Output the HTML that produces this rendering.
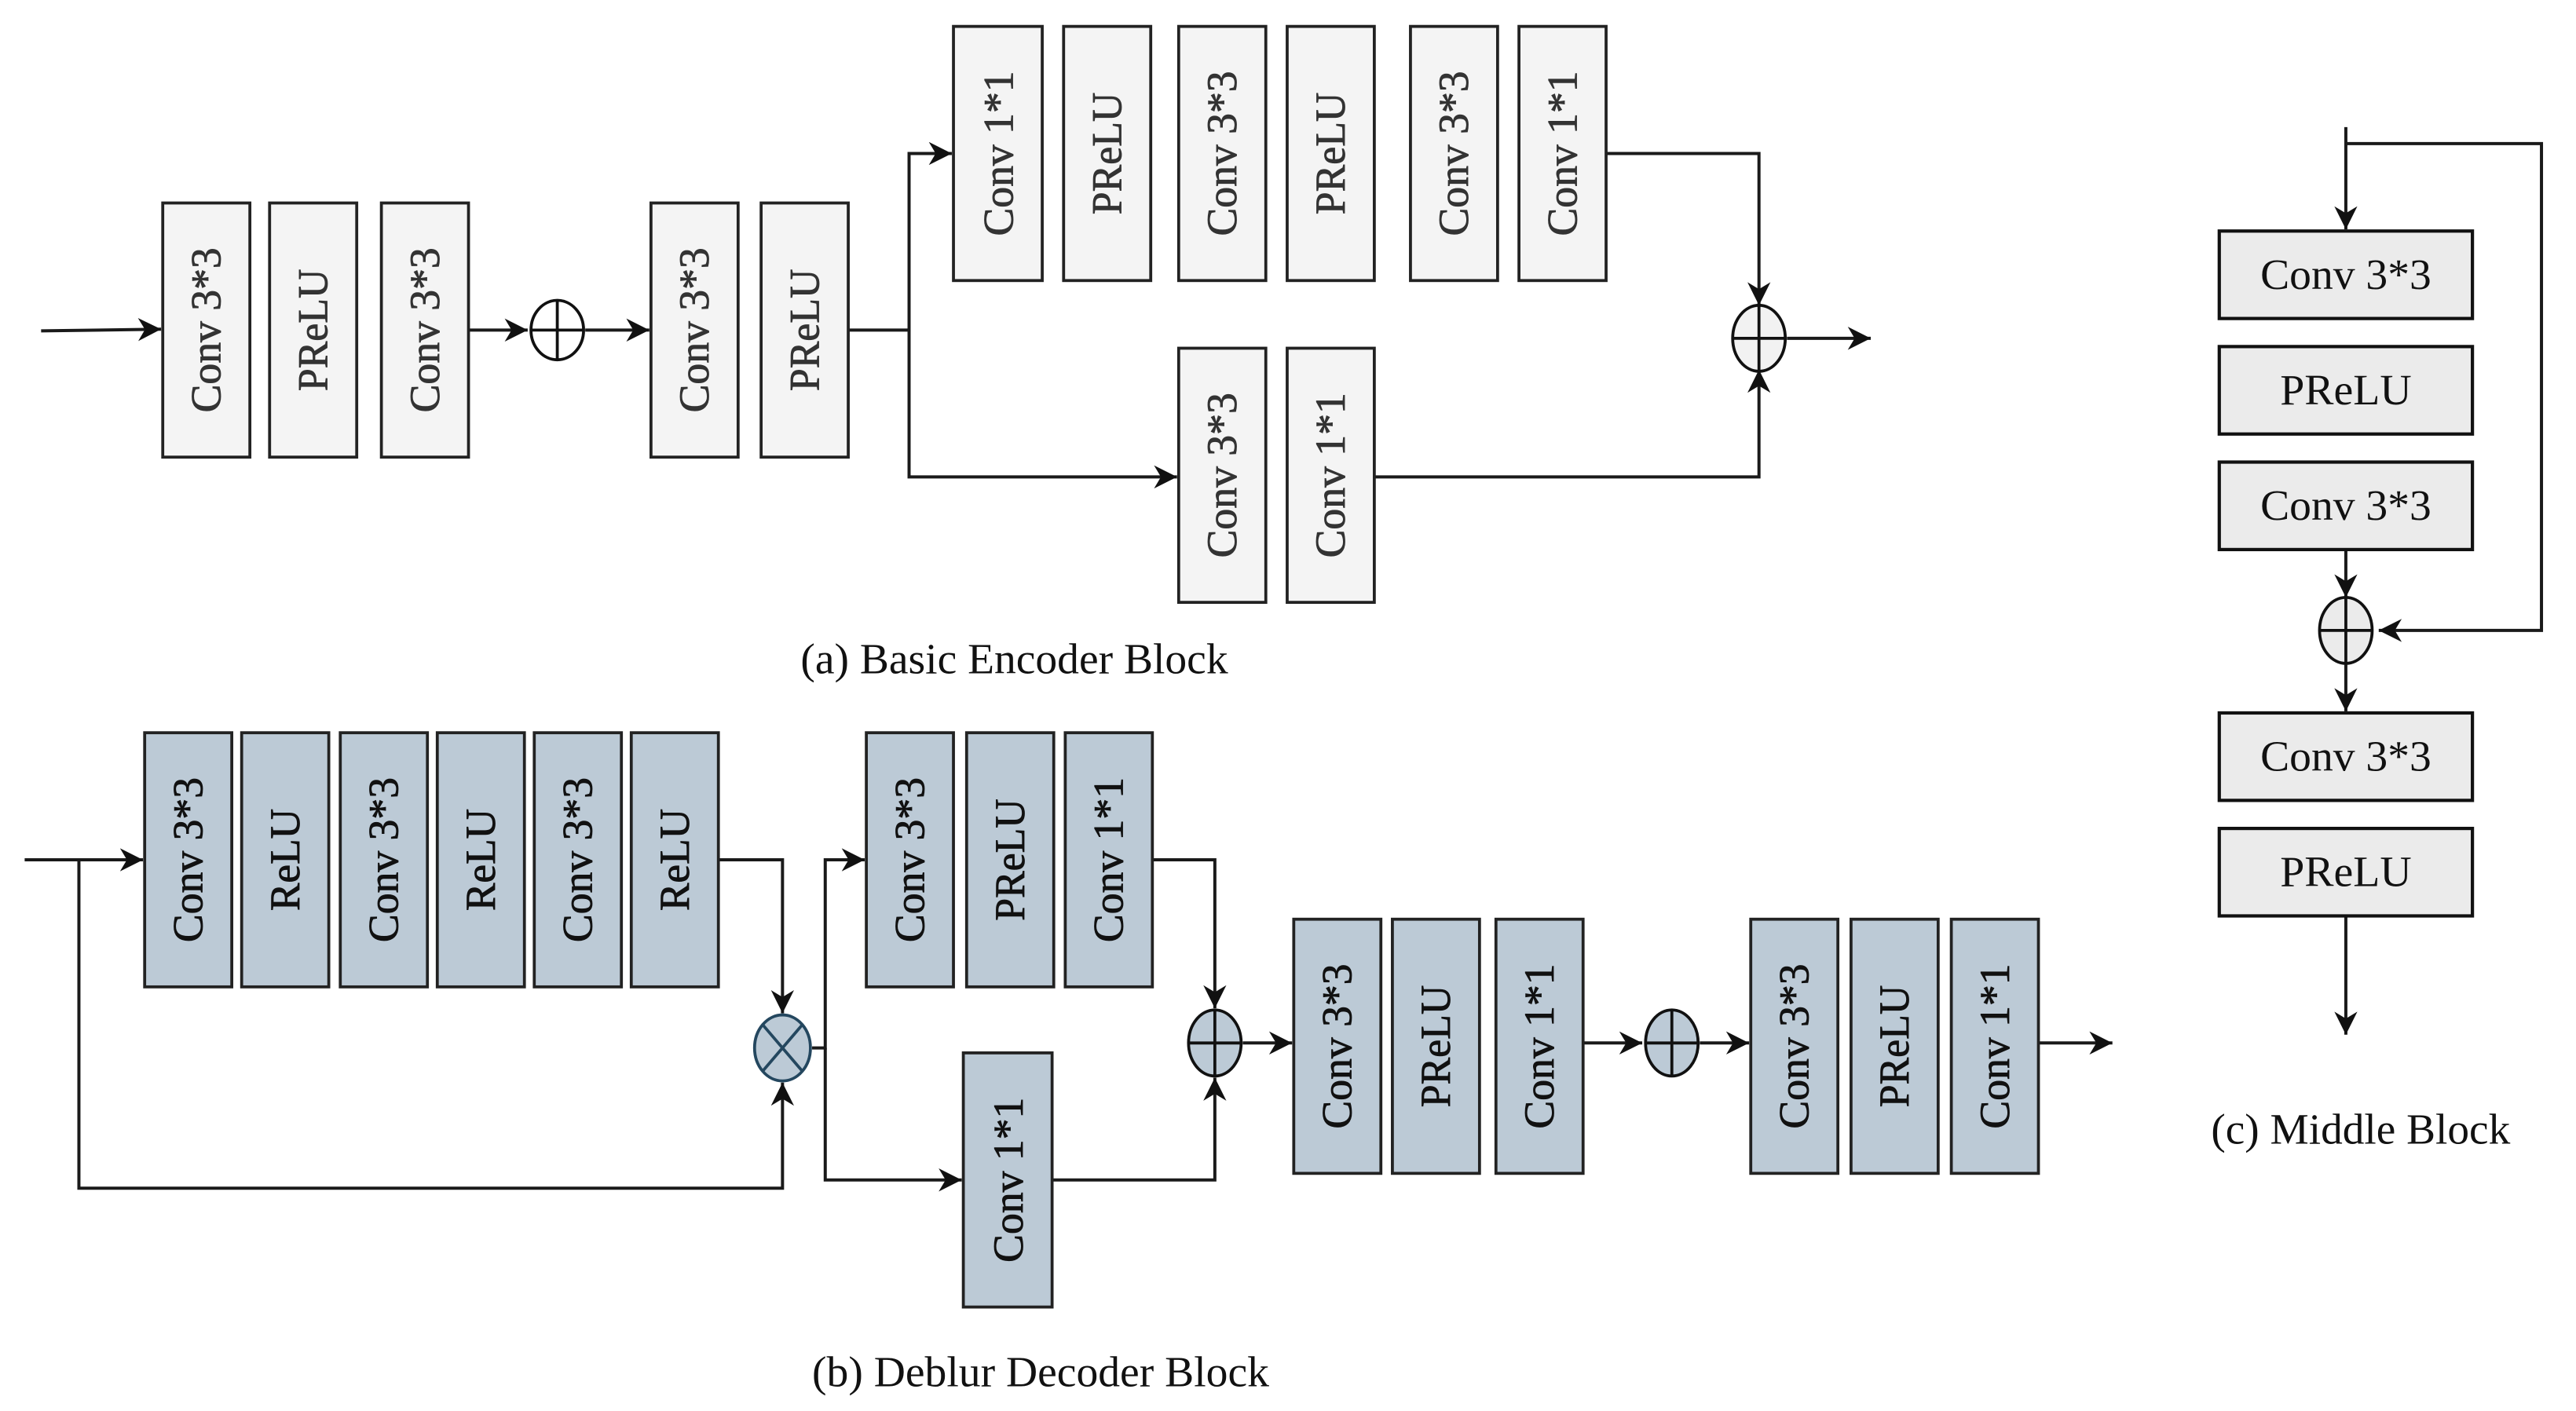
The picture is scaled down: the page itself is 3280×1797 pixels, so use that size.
<!DOCTYPE html>
<html><head><meta charset="utf-8"><style>html,body{margin:0;padding:0;background:#fff}svg{display:block}</style></head><body>
<svg width="3280" height="1797" viewBox="0 0 1567 855" preserveAspectRatio="none" xmlns="http://www.w3.org/2000/svg" font-family="Liberation Serif, serif">
<defs>
<marker id="a" viewBox="0 0 10 10" refX="10" refY="5" markerWidth="14" markerHeight="14" markerUnits="userSpaceOnUse" orient="auto"><path d="M0,0 L10,5 L0,10 L3,5 z" fill="#111"/></marker>
</defs>
<g stroke="#1a1a1a" stroke-width="1.9" fill="none">
<path d="M25,200.5 L98,199.5" marker-end="url(#a)"/>
<path d="M285,200 L321,200" marker-end="url(#a)"/>
<path d="M356,200 L395,200" marker-end="url(#a)"/>
<path d="M516,200 L553,200 L553,93 L579,93" marker-end="url(#a)"/>
<path d="M553,200 L553,289 L716,289" marker-end="url(#a)"/>
<path d="M977,93 L1070,93 L1070,185" marker-end="url(#a)"/>
<path d="M836,289 L1070,289 L1070,224" marker-end="url(#a)"/>
<path d="M1087,205 L1138,205" marker-end="url(#a)"/>
<path d="M1427,77 L1427,139" marker-end="url(#a)"/>
<path d="M1427,87 L1546,87 L1546,382 L1447,382" marker-end="url(#a)"/>
<path d="M1427,333 L1427,362" marker-end="url(#a)"/>
<path d="M1427,402 L1427,431" marker-end="url(#a)"/>
<path d="M1427,555 L1427,627" marker-end="url(#a)"/>
<path d="M15,521 L87,521" marker-end="url(#a)"/>
<path d="M48,521 L48,720 L476,720 L476,656" marker-end="url(#a)"/>
<path d="M437,521 L476,521 L476,614" marker-end="url(#a)"/>
<path d="M494,635 L502,635 L502,521 L526,521" marker-end="url(#a)"/>
<path d="M502,635 L502,715 L585,715" marker-end="url(#a)"/>
<path d="M701,521 L739,521 L739,611" marker-end="url(#a)"/>
<path d="M640,715 L739,715 L739,653" marker-end="url(#a)"/>
<path d="M756,632 L786,632" marker-end="url(#a)"/>
<path d="M963,632 L999,632" marker-end="url(#a)"/>
<path d="M1034,632 L1064,632" marker-end="url(#a)"/>
<path d="M1240,632 L1285,632" marker-end="url(#a)"/>
</g>
<g stroke="#111" stroke-width="1.8">
<ellipse cx="339" cy="200" rx="16" ry="18" fill="#fff"/><path d="M323,200 H355 M339,182 V218"/>
<ellipse cx="1070" cy="205" rx="16" ry="20" fill="#f2f2f2"/><path d="M1054,205 H1086 M1070,185 V225"/>
<ellipse cx="1427" cy="382" rx="16" ry="20" fill="#ebebeb"/><path d="M1411,382 H1443 M1427,362 V402"/>
<ellipse cx="739" cy="632" rx="16" ry="20" fill="#bccad6"/><path d="M723,632 H755 M739,612 V652"/>
<ellipse cx="1017" cy="632" rx="16" ry="20" fill="#bccad6"/><path d="M1001,632 H1033 M1017,612 V652"/>
</g>
<g stroke="#24475f" stroke-width="1.8">
<ellipse cx="476" cy="635" rx="17" ry="20" fill="#bccad6"/><path d="M464,621 L488,649 M488,621 L464,649"/>
</g>
<g stroke="#222" stroke-width="1.8" fill="#f4f4f4">
<rect x="99" y="123" width="53" height="154"/><rect x="164" y="123" width="53" height="154"/><rect x="232" y="123" width="53" height="154"/>
<rect x="396" y="123" width="53" height="154"/><rect x="463" y="123" width="53" height="154"/>
<rect x="580" y="16" width="54" height="154"/><rect x="647" y="16" width="53" height="154"/><rect x="717" y="16" width="53" height="154"/>
<rect x="783" y="16" width="53" height="154"/><rect x="858" y="16" width="53" height="154"/><rect x="924" y="16" width="53" height="154"/>
<rect x="717" y="211" width="53" height="154"/><rect x="783" y="211" width="53" height="154"/>
</g>
<g stroke="#111" stroke-width="2" fill="#ebebeb">
<rect x="1350" y="140" width="154" height="53"/><rect x="1350" y="210" width="154" height="53"/><rect x="1350" y="280" width="154" height="53"/>
<rect x="1350" y="432" width="154" height="53"/><rect x="1350" y="502" width="154" height="53"/>
</g>
<g stroke="#222" stroke-width="1.8" fill="#bccad6">
<rect x="88" y="444" width="53" height="154"/><rect x="147" y="444" width="53" height="154"/><rect x="207" y="444" width="53" height="154"/>
<rect x="266" y="444" width="53" height="154"/><rect x="325" y="444" width="53" height="154"/><rect x="384" y="444" width="53" height="154"/>
<rect x="527" y="444" width="53" height="154"/><rect x="588" y="444" width="53" height="154"/><rect x="648" y="444" width="53" height="154"/>
<rect x="586" y="638" width="54" height="154"/>
<rect x="787" y="557" width="53" height="154"/><rect x="847" y="557" width="53" height="154"/><rect x="910" y="557" width="53" height="154"/>
<rect x="1065" y="557" width="53" height="154"/><rect x="1126" y="557" width="53" height="154"/><rect x="1187" y="557" width="53" height="154"/>
</g>
<g font-size="26" text-anchor="middle" fill="#333" stroke="#333" stroke-width="0.4">
<text transform="translate(134,200) rotate(-90)" textLength="100" lengthAdjust="spacingAndGlyphs">Conv 3*3</text>
<text transform="translate(199,200) rotate(-90)" textLength="74" lengthAdjust="spacingAndGlyphs">PReLU</text>
<text transform="translate(267,200) rotate(-90)" textLength="100" lengthAdjust="spacingAndGlyphs">Conv 3*3</text>
<text transform="translate(431,200) rotate(-90)" textLength="100" lengthAdjust="spacingAndGlyphs">Conv 3*3</text>
<text transform="translate(498,200) rotate(-90)" textLength="74" lengthAdjust="spacingAndGlyphs">PReLU</text>
<text transform="translate(616,93) rotate(-90)" textLength="100" lengthAdjust="spacingAndGlyphs">Conv 1*1</text>
<text transform="translate(682,93) rotate(-90)" textLength="74" lengthAdjust="spacingAndGlyphs">PReLU</text>
<text transform="translate(752,93) rotate(-90)" textLength="100" lengthAdjust="spacingAndGlyphs">Conv 3*3</text>
<text transform="translate(818,93) rotate(-90)" textLength="74" lengthAdjust="spacingAndGlyphs">PReLU</text>
<text transform="translate(893,93) rotate(-90)" textLength="100" lengthAdjust="spacingAndGlyphs">Conv 3*3</text>
<text transform="translate(959,93) rotate(-90)" textLength="100" lengthAdjust="spacingAndGlyphs">Conv 1*1</text>
<text transform="translate(752,288) rotate(-90)" textLength="100" lengthAdjust="spacingAndGlyphs">Conv 3*3</text>
<text transform="translate(818,288) rotate(-90)" textLength="100" lengthAdjust="spacingAndGlyphs">Conv 1*1</text>
</g>
<g font-size="26" text-anchor="middle" fill="#111" stroke="#111" stroke-width="0.4">
<text transform="translate(123,521) rotate(-90)" textLength="100" lengthAdjust="spacingAndGlyphs">Conv 3*3</text>
<text transform="translate(182,521) rotate(-90)" textLength="62" lengthAdjust="spacingAndGlyphs">ReLU</text>
<text transform="translate(242,521) rotate(-90)" textLength="100" lengthAdjust="spacingAndGlyphs">Conv 3*3</text>
<text transform="translate(301,521) rotate(-90)" textLength="62" lengthAdjust="spacingAndGlyphs">ReLU</text>
<text transform="translate(360,521) rotate(-90)" textLength="100" lengthAdjust="spacingAndGlyphs">Conv 3*3</text>
<text transform="translate(419,521) rotate(-90)" textLength="62" lengthAdjust="spacingAndGlyphs">ReLU</text>
<text transform="translate(562,521) rotate(-90)" textLength="100" lengthAdjust="spacingAndGlyphs">Conv 3*3</text>
<text transform="translate(623,521) rotate(-90)" textLength="74" lengthAdjust="spacingAndGlyphs">PReLU</text>
<text transform="translate(683,521) rotate(-90)" textLength="100" lengthAdjust="spacingAndGlyphs">Conv 1*1</text>
<text transform="translate(622,715) rotate(-90)" textLength="100" lengthAdjust="spacingAndGlyphs">Conv 1*1</text>
<text transform="translate(822,634) rotate(-90)" textLength="100" lengthAdjust="spacingAndGlyphs">Conv 3*3</text>
<text transform="translate(882,634) rotate(-90)" textLength="74" lengthAdjust="spacingAndGlyphs">PReLU</text>
<text transform="translate(945,634) rotate(-90)" textLength="100" lengthAdjust="spacingAndGlyphs">Conv 1*1</text>
<text transform="translate(1100,634) rotate(-90)" textLength="100" lengthAdjust="spacingAndGlyphs">Conv 3*3</text>
<text transform="translate(1161,634) rotate(-90)" textLength="74" lengthAdjust="spacingAndGlyphs">PReLU</text>
<text transform="translate(1222,634) rotate(-90)" textLength="100" lengthAdjust="spacingAndGlyphs">Conv 1*1</text>
</g>
<g font-size="26" text-anchor="middle" fill="#111">
<text x="1427" y="175" textLength="104" lengthAdjust="spacingAndGlyphs">Conv 3*3</text>
<text x="1427" y="245" textLength="80" lengthAdjust="spacingAndGlyphs">PReLU</text>
<text x="1427" y="315" textLength="104" lengthAdjust="spacingAndGlyphs">Conv 3*3</text>
<text x="1427" y="467" textLength="104" lengthAdjust="spacingAndGlyphs">Conv 3*3</text>
<text x="1427" y="537" textLength="80" lengthAdjust="spacingAndGlyphs">PReLU</text>
<text x="617" y="408" textLength="260" lengthAdjust="spacingAndGlyphs">(a) Basic Encoder Block</text>
<text x="633" y="840" textLength="278" lengthAdjust="spacingAndGlyphs">(b) Deblur Decoder Block</text>
<text x="1436" y="693" textLength="182" lengthAdjust="spacingAndGlyphs">(c) Middle Block</text>
</g>
</svg>
</body></html>
